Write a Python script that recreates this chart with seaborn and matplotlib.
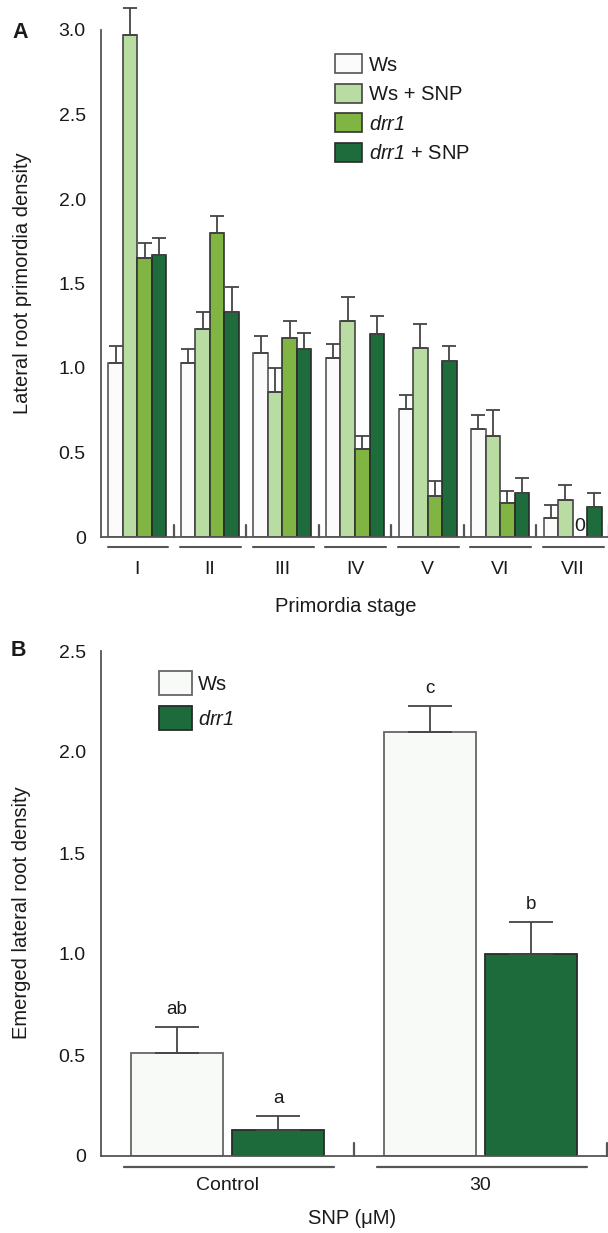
import numpy as np
import pandas as pd
import matplotlib
matplotlib.use("Agg")
import matplotlib.pyplot as plt
import seaborn as sns
from matplotlib.patches import Patch

# ---------------- data ----------------
stages = ["I", "II", "III", "IV", "V", "VI", "VII"]
groups_a = ["Ws", "Ws + SNP", "drr1", "drr1 + SNP"]
ws_vals = [1.03, 1.03, 1.09, 1.06, 0.76, 0.64, 0.11]
ws_err = [0.10, 0.08, 0.10, 0.08, 0.08, 0.08, 0.08]
ws_snp_vals = [2.97, 1.23, 0.86, 1.28, 1.12, 0.60, 0.22]
ws_snp_err = [0.16, 0.10, 0.14, 0.14, 0.14, 0.15, 0.09]
drr1_vals = [1.65, 1.80, 1.18, 0.52, 0.24, 0.20, 0.0]
drr1_err = [0.09, 0.10, 0.10, 0.08, 0.09, 0.07, 0.0]
drr1_snp_vals = [1.67, 1.33, 1.11, 1.20, 1.04, 0.26, 0.18]
drr1_snp_err = [0.10, 0.15, 0.10, 0.11, 0.09, 0.09, 0.08]

treatments_b = ["Control", "30"]
genotypes_b = ["Ws", "drr1"]
b_ws_vals = [0.51, 2.10]
b_ws_err = [0.13, 0.13]
b_drr1_vals = [0.13, 1.00]
b_drr1_err = [0.07, 0.16]
b_letters_ws = ["ab", "c"]
b_letters_drr1 = ["a", "b"]

colors_a = ["#fbfbfb", "#b9dca3", "#80b443", "#1e6c3b"]
edges_a = ["#555555", "#444444", "#333333", "#2a2a2a"]
colors_b = ["#f8faf8", "#1d6a3a"]
edges_b = ["#666666", "#2a2a2a"]

# ---------------- style ----------------
sns.set_theme(style="white")
plt.rcParams["font.family"] = ["Liberation Sans", "DejaVu Sans"]
plt.rcParams["mathtext.fontset"] = "custom"
plt.rcParams["mathtext.rm"] = "Liberation Sans:italic"
plt.rcParams["mathtext.it"] = "Liberation Sans:italic"
TXT = "#1a1a1a"
SPINE = "#555555"

W, H = 608, 1233
fig = plt.figure(figsize=(W / 100, H / 100), dpi=100)

def fx(px):
    return px / W

def fy(py):
    return 1 - py / H

def italic_label(s):
    return s.replace("drr1", r"$\mathit{drr1}$")

# ---------------- panel A ----------------
axA = fig.add_axes([fx(101), fy(537), fx(609) - fx(101), fy(0) - fy(537)])
vals_a = [ws_vals, ws_snp_vals, drr1_vals, drr1_snp_vals]
errs_a = [ws_err, ws_snp_err, drr1_err, drr1_snp_err]
rows = []
for g, vals in zip(groups_a, vals_a):
    for s, v in zip(stages, vals):
        rows.append({"stage": s, "group": g, "value": v})
dfA = pd.DataFrame(rows)
sns.barplot(data=dfA, x="stage", y="value", hue="group", order=stages,
            hue_order=groups_a, palette=colors_a, errorbar=None, width=0.8,
            linewidth=1.2, edgecolor="#333333", saturation=1, legend=False, ax=axA)

bar_conts_a = list(axA.containers)
for ci, cont in enumerate(bar_conts_a):
    for bi, patch in enumerate(cont.patches):
        patch.set_edgecolor(edges_a[ci])
        patch.set_facecolor(colors_a[ci])
        xc = patch.get_x() + patch.get_width() / 2
        top = patch.get_height()
        e = errs_a[ci][bi]
        if e > 0:
            axA.errorbar([xc], [top], yerr=[[0], [e]], fmt="none", ecolor="#444444",
                         elinewidth=1.3, capsize=5.2, capthick=1.3, zorder=1)
        if top == 0:
            axA.text(xc, 0.01, "0", ha="center", va="bottom", fontsize=14, color=TXT)

ymaxA = 537 / 169.0
axA.set_ylim(0, ymaxA)
axA.set_xlim(-0.5, len(stages) - 0.5)
axA.set_yticks([0, 0.5, 1.0, 1.5, 2.0, 2.5, 3.0])
axA.set_yticklabels(["0", "0.5", "1.0", "1.5", "2.0", "2.5", "3.0"])
axA.spines["top"].set_visible(False)
axA.spines["right"].set_visible(False)
axA.spines["left"].set_bounds(0, 3.0)
for sp in ["left", "bottom"]:
    axA.spines[sp].set_color(SPINE)
    axA.spines[sp].set_linewidth(1.3)
axA.tick_params(axis="y", direction="in", length=6, width=1.3, color=SPINE,
                pad=11, labelsize=14, labelcolor=TXT)
axA.tick_params(axis="x", length=0, pad=17, labelsize=14, labelcolor=TXT)
axA.set_xlabel("")
axA.set_ylabel("")

hA = 537.0
for i in range(len(stages)):
    axA.plot([i - 0.41, i + 0.43], [-10 / hA, -10 / hA], color=SPINE, lw=1.5,
             transform=axA.get_xaxis_transform(), clip_on=False)
    axA.plot([i + 0.5, i + 0.5], [0, 12 / hA], color=SPINE, lw=1.6,
             transform=axA.get_xaxis_transform(), clip_on=False)

fig.text(fx(23), fy(283), "Lateral root primordia density", rotation=90,
         ha="center", va="center", fontsize=14.5, color=TXT)
fig.text(fx(346), fy(607), "Primordia stage", ha="center", va="center",
         fontsize=14.5, color=TXT)
fig.text(fx(12), fy(32), "A", ha="left", va="center", fontsize=15.5,
         fontweight="bold", color=TXT)

handlesA = [Patch(facecolor=c, edgecolor=e, linewidth=1.2) for c, e in zip(colors_a, edges_a)]
legA = fig.legend(handlesA, [italic_label(g) for g in groups_a], loc="upper left",
                  bbox_to_anchor=(fx(335), fy(54)), frameon=False, fontsize=14.5,
                  handlelength=1.34, handleheight=1.1, handletextpad=0.35,
                  labelspacing=0.45, borderpad=0, borderaxespad=0)
for t in legA.get_texts():
    t.set_color(TXT)

# ---------------- panel B ----------------
axB = fig.add_axes([fx(101), fy(1156), fx(607) - fx(101), fy(640) - fy(1156)])
vals_b = [b_ws_vals, b_drr1_vals]
errs_b = [b_ws_err, b_drr1_err]
letters_b = [b_letters_ws, b_letters_drr1]
rows = []
for g, vals in zip(genotypes_b, vals_b):
    for t, v in zip(treatments_b, vals):
        rows.append({"treat": t, "genotype": g, "value": v})
dfB = pd.DataFrame(rows)
sns.barplot(data=dfB, x="treat", y="value", hue="genotype", order=treatments_b,
            hue_order=genotypes_b, palette=colors_b, errorbar=None, width=0.8,
            gap=0.09, linewidth=1.3, edgecolor="#333333", saturation=1,
            legend=False, ax=axB)
bar_conts_b = list(axB.containers)
for ci, cont in enumerate(bar_conts_b):
    for bi, patch in enumerate(cont.patches):
        patch.set_edgecolor(edges_b[ci])
        patch.set_facecolor(colors_b[ci])
        xc = patch.get_x() + patch.get_width() / 2
        top = patch.get_height()
        e = errs_b[ci][bi]
        axB.errorbar([xc], [top], yerr=[[0], [e]], fmt="none", ecolor="#444444",
                     elinewidth=1.3, capsize=16, capthick=1.3, zorder=1)
        axB.annotate(letters_b[ci][bi], (xc, top + e), xytext=(0, 6),
                     textcoords="offset points", ha="center", va="bottom",
                     fontsize=13.5, color=TXT)

ymaxB = 516 / 202.0
axB.set_ylim(0, ymaxB)
axB.set_xlim(-0.5, len(treatments_b) - 0.5)
axB.set_yticks([0, 0.5, 1.0, 1.5, 2.0, 2.5])
axB.set_yticklabels(["0", "0.5", "1.0", "1.5", "2.0", "2.5"])
axB.spines["top"].set_visible(False)
axB.spines["right"].set_visible(False)
axB.spines["left"].set_bounds(0, 2.5)
for sp in ["left", "bottom"]:
    axB.spines[sp].set_color(SPINE)
    axB.spines[sp].set_linewidth(1.3)
axB.tick_params(axis="y", direction="in", length=8, width=1.3, color=SPINE,
                pad=11, labelsize=14, labelcolor=TXT)
axB.tick_params(axis="x", length=0, pad=15, labelsize=14, labelcolor=TXT)
axB.set_xlabel("")
axB.set_ylabel("")

hB = 516.0
for i in range(len(treatments_b)):
    axB.plot([i - 0.41, i + 0.42], [-11 / hB, -11 / hB], color=SPINE, lw=1.6,
             transform=axB.get_xaxis_transform(), clip_on=False)
    axB.plot([i + 0.5, i + 0.5], [0, 13 / hB], color=SPINE, lw=1.6,
             transform=axB.get_xaxis_transform(), clip_on=False)

fig.text(fx(22), fy(913), "Emerged lateral root density", rotation=90,
         ha="center", va="center", fontsize=14.5, color=TXT)
fig.text(fx(352), fy(1219), "SNP (μM)", ha="center", va="center",
         fontsize=14.5, color=TXT)
fig.text(fx(11), fy(650), "B", ha="left", va="center", fontsize=15.5,
         fontweight="bold", color=TXT)

handlesB = [Patch(facecolor=c, edgecolor=e, linewidth=1.3) for c, e in zip(colors_b, edges_b)]
legB = fig.legend(handlesB, [italic_label(g) for g in genotypes_b], loc="upper left",
                  bbox_to_anchor=(fx(159), fy(671)), frameon=False, fontsize=14.5,
                  handlelength=1.65, handleheight=1.48, handletextpad=0.3,
                  labelspacing=0.52, borderpad=0, borderaxespad=0)
for t in legB.get_texts():
    t.set_color(TXT)

fig.savefig("out.png", dpi=100)
